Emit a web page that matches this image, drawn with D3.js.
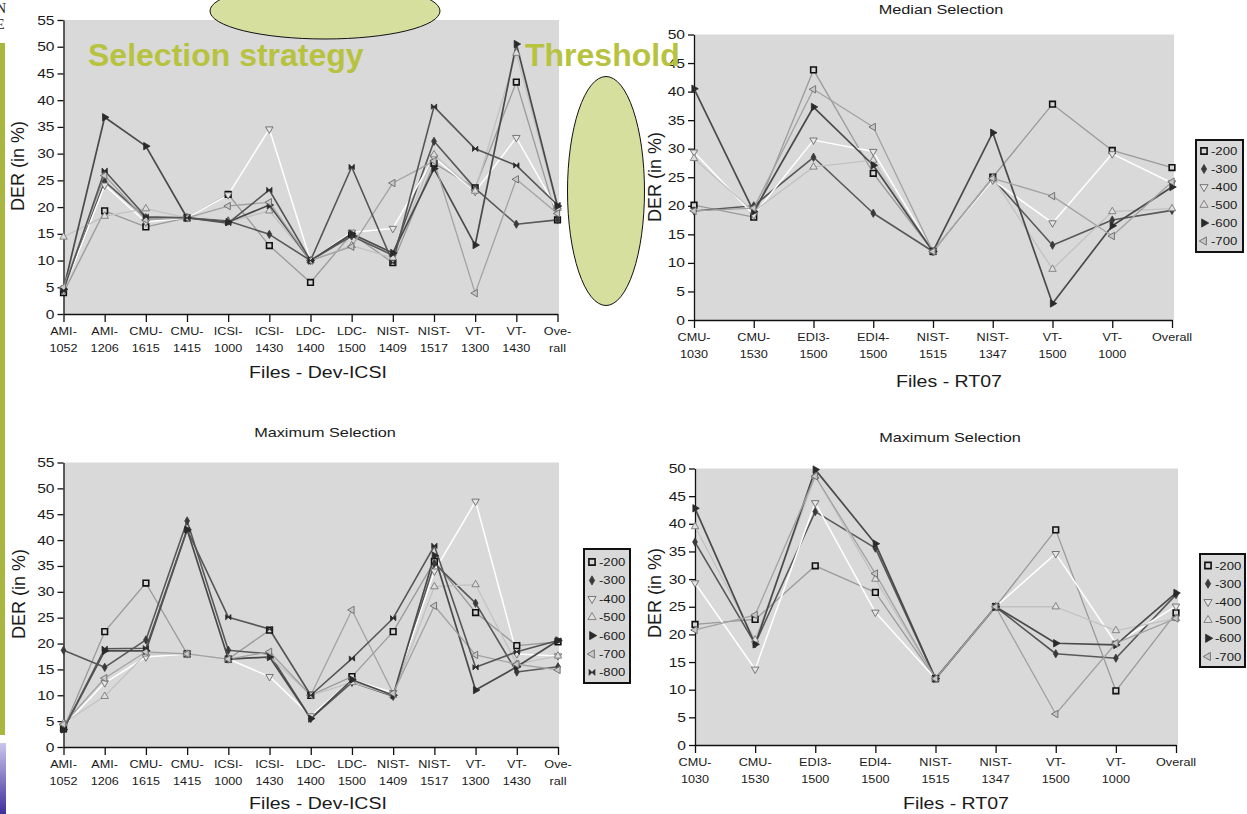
<!DOCTYPE html>
<html><head><meta charset="utf-8">
<script src="https://cdn.jsdelivr.net/npm/d3@7"></script>
<style>
html,body{margin:0;padding:0;background:#fff;}
svg{display:block;font-family:"Liberation Sans",Arial,sans-serif;}
</style></head><body>
<svg id="c" width="1247" height="814"></svg>
<script>
// ---------- DATA ----------
const devFiles = ["AMI-1052","AMI-1206","CMU-1615","CMU-1415","ICSI-1000","ICSI-1430","LDC-1400","LDC-1500","NIST-1409","NIST-1517","VT-1300","VT-1430","Ove-rall"];
const rtFiles = ["CMU-1030","CMU-1530","EDI3-1500","EDI4-1500","NIST-1515","NIST-1347","VT-1500","VT-1000","Overall"];
const thresholds = ["-200","-300","-400","-500","-600","-700","-800"];
const devTicks = [0,5,10,15,20,25,30,35,40,45,50,55];
const rtTicks = [0,5,10,15,20,25,30,35,40,45,50];

// Top-left: Dev-ICSI (median)
const medDev200 = [4, 19.3, 16.3, 18, 22.4, 12.8, 5.9, 15, 9.6, 28.2, 23.6, 43.4, 17.6];
const medDev300 = [4.5, 24.8, 18, 18, 17.4, 14.9, 10, 14.6, 11, 32.3, 23.5, 16.8, 17.6];
const medDev400 = [4.4, 24.1, 17.2, 18, 22.3, 34.6, 10, 15.3, 16, 29.3, 22.9, 33, 19.4];
const medDev500 = [14.4, 18.3, 19.7, 18, 17.2, 19.3, 10, 12.8, 10.5, 29.8, 23, 48.8, 19.8];
const medDev600 = [4.6, 36.8, 31.4, 18, 17.2, 20.4, 10, 15, 11.4, 27.2, 12.9, 50.5, 20.2];
const medDev700 = [5, 25.9, 17.6, 18, 20.2, 20.9, 10, 12.6, 24.5, 28.6, 3.9, 25.2, 18.8];
const medDev800 = [4.4, 26.8, 18.2, 18, 17, 23.2, 10, 27.5, 9.6, 38.8, 30.9, 27.8, 20.4];

// Top-right: RT07 median selection
const medRt200 = [20.1, 18, 43.8, 25.7, 12, 25, 37.8, 29.7, 26.7];
const medRt300 = [19.1, 20, 28.5, 18.7, 12, 24.8, 13.1, 17.5, 19.2];
const medRt400 = [29.4, 18.4, 31.5, 29.5, 12, 24.5, 17, 29.1, 24];
const medRt500 = [28.3, 19, 26.8, 28, 12, 24.9, 8.9, 19, 19.5];
const medRt600 = [40.5, 19, 37.3, 27.1, 12, 32.8, 2.9, 16.5, 23.3];
const medRt700 = [19.1, 19.6, 40.4, 33.8, 12, 24.8, 21.7, 14.7, 24.2];

// Bottom-left: Dev-ICSI maximum selection
const maxDev200 = [3.5, 22.3, 31.7, 18, 17, 22.6, 10, 13.6, 22.3, 35.9, 26, 19.6, 20.3];
const maxDev300 = [18.7, 15.4, 20.7, 43.7, 18.7, 18, 5.5, 12.5, 9.8, 35.5, 27.8, 14.5, 15.5];
const maxDev400 = [4, 12.4, 17.4, 18, 17, 13.6, 6, 13, 10.5, 34, 47.5, 18, 17.6];
const maxDev500 = [4.6, 9.8, 18, 18, 17, 17.5, 10, 12.5, 10, 31, 31.4, 16, 17.6];
const maxDev600 = [3.4, 18.6, 18.6, 42, 17, 17.4, 5.5, 13, 10, 37, 11, 15.5, 20.6];
const maxDev700 = [4.4, 13.3, 18.4, 18, 17, 18.4, 10, 26.5, 10.4, 27.3, 17.8, 16, 14.9];
const maxDev800 = [3.4, 19, 19.1, 42, 25.1, 22.8, 10, 17.1, 24.9, 38.9, 15.4, 18.4, 20.6];

// Bottom-right: RT07 maximum selection
const maxRt200 = [21.8, 22.7, 32.4, 27.6, 12, 25, 38.9, 9.8, 23.9];
const maxRt300 = [36.7, 18.3, 42.2, 35.6, 12, 25, 16.5, 15.7, 27.2];
const maxRt400 = [29.3, 13.7, 43.8, 24, 12, 25, 34.6, 18.4, 25.1];
const maxRt500 = [39.5, 19, 48.6, 30, 12, 25, 25, 20.7, 22.9];
const maxRt600 = [42.8, 18.2, 49.8, 36.4, 12, 25, 18.4, 18.1, 27.5];
const maxRt700 = [20.8, 23.5, 48.6, 31, 12, 25, 5.6, 18.4, 22.9];

// ---------- STYLES ----------
const bowtie = {draw(ctx, size){const r=Math.sqrt(size)/2; ctx.moveTo(-r,-r); ctx.lineTo(-r,r); ctx.lineTo(r,-r); ctx.lineTo(r,r); ctx.closePath();}};
const styles = {
  "-200": {line:"#9a9a9a", w:1.3, type:d3.symbolSquare, size:32, rot:0, fill:"#d6d6d6", stroke:"#111", sw:1.6},
  "-300": {line:"#585858", w:1.6, type:d3.symbolDiamond, size:20, rot:0, fill:"#3a3a3a", stroke:"#3a3a3a", sw:0.8},
  "-400": {line:"#ffffff", w:1.5, type:d3.symbolTriangle, size:24, rot:180, fill:"#e6e6e6", stroke:"#6a6a6a", sw:0.9},
  "-500": {line:"#c2c2c2", w:1.3, type:d3.symbolTriangle, size:24, rot:0, fill:"#dedede", stroke:"#7a7a7a", sw:0.9},
  "-600": {line:"#4a4a4a", w:1.7, type:d3.symbolTriangle, size:24, rot:90, fill:"#2a2a2a", stroke:"#2a2a2a", sw:0.8},
  "-700": {line:"#a2a2a2", w:1.3, type:d3.symbolTriangle, size:24, rot:-90, fill:"#c8c8c8", stroke:"#6a6a6a", sw:0.9},
  "-800": {line:"#555555", w:1.6, type:bowtie, size:28, rot:0, fill:"#2a2a2a", stroke:"#2a2a2a", sw:0.8}
};

const svg = d3.select("#c");

function txt(g, x, y, s, size, anchor, sx, extra){
  const t = g.append("text")
    .attr("transform", `translate(${x},${y}) scale(${sx},1)`)
    .attr("text-anchor", anchor).attr("font-size", size).attr("fill", extra && extra.fill || "#1a1a1a")
    .text(s);
  if (extra && extra.weight) t.attr("font-weight", extra.weight);
  return t;
}

function drawPanel(cfg){
  const g = svg.append("g");
  const x = d3.scalePoint().domain(cfg.cats).range([cfg.x0, cfg.x1]).padding(0);
  const y = d3.scaleLinear().domain([0, cfg.ymax]).range([cfg.yb, cfg.yt]);
  g.append("rect").attr("x", cfg.x0).attr("y", y(cfg.ymax)).attr("width", cfg.bgRight - cfg.x0)
    .attr("height", y(0) - y(cfg.ymax)).attr("fill", "#d9d9d9");
  const ay = g.append("g").attr("transform", `translate(${cfg.x0},0)`)
    .call(d3.axisLeft(y).tickValues(cfg.ticks).tickSize(6).tickSizeOuter(0).tickFormat(""));
  const ax = g.append("g").attr("transform", `translate(0,${y(0)})`)
    .call(d3.axisBottom(x).tickSize(8).tickSizeOuter(0).tickFormat(""));
  [ay, ax].forEach(a => { a.selectAll("path,line").attr("stroke", "#111").attr("stroke-width", 1.3); });
  cfg.ticks.forEach(t => txt(g, cfg.x0 - 9, y(t) + 4.5, String(t), 12.5, "end", 1.25));
  cfg.cats.forEach(c => {
    const parts = c.split(/(?<=-)/);
    parts.forEach((p, i) => txt(g, x(c), y(0) + 21 + i * 17, p, 11, "middle", 1.15));
  });
  txt(g, cfg.xtX, cfg.xtY, cfg.xTitle, 17, "middle", 1.15);
  g.append("text").attr("transform", `translate(${cfg.ytX},${cfg.ytY}) rotate(-90)`)
    .attr("text-anchor", "middle").attr("font-size", 18).attr("fill", "#1a1a1a").text("DER (in %)");
  if (cfg.title) txt(g, cfg.titleX, cfg.titleY, cfg.title, 13, "middle", 1.25);
  const line = d3.line().x((d, i) => x(cfg.cats[i])).y(d => y(d));
  cfg.series.forEach((s, k) => {
    const st = styles[thresholds[k]];
    g.append("path").datum(s).attr("d", line).attr("fill", "none")
      .attr("stroke", st.line).attr("stroke-width", st.w).attr("stroke-linejoin", "round");
  });
  cfg.series.forEach((s, k) => {
    const st = styles[thresholds[k]];
    const sym = d3.symbol().type(st.type).size(st.size)();
    g.selectAll(null).data(s).join("path").attr("d", sym)
      .attr("transform", (d, i) => `translate(${x(cfg.cats[i])},${y(d)}) rotate(${st.rot})`)
      .attr("fill", st.fill).attr("stroke", st.stroke).attr("stroke-width", st.sw);
  });
  if (cfg.legend) {
    const L = cfg.legend;
    const n = cfg.series.length;
    g.append("rect").attr("x", L.x).attr("y", L.y).attr("width", L.w).attr("height", L.h)
      .attr("fill", "#d9d9d9").attr("stroke", "#111").attr("stroke-width", 2);
    for (let k = 0; k < n; k++) {
      const st = styles[thresholds[k]];
      const cy = L.y0 + k * L.step;
      g.append("path").attr("d", d3.symbol().type(st.type).size(st.size * 1.2)())
        .attr("transform", `translate(${L.x + 8},${cy}) rotate(${st.rot})`)
        .attr("fill", st.fill).attr("stroke", st.stroke).attr("stroke-width", st.sw);
      txt(g, L.x + 15, cy + 4, thresholds[k], 10.5, "start", 1.25);
    }
  }
}

// ---------- SLIDE DECORATION (left) ----------
svg.append("rect").attr("x", 0).attr("y", 43).attr("width", 5).attr("height", 692).attr("fill", "#a9b741");
const grad = svg.append("defs").append("linearGradient").attr("id", "pg").attr("x1", 0).attr("y1", 0).attr("x2", 0).attr("y2", 1);
grad.append("stop").attr("offset", 0).attr("stop-color", "#c9c6ee");
grad.append("stop").attr("offset", 1).attr("stop-color", "#3d2f9c");
svg.append("rect").attr("x", 0).attr("y", 743).attr("width", 6).attr("height", 71).attr("fill", "url(#pg)");
svg.append("text").attr("x", -4).attr("y", 13).attr("font-family", "Liberation Serif").attr("font-size", 14).attr("fill", "#222").text("N");
svg.append("text").attr("x", -4).attr("y", 29).attr("font-family", "Liberation Serif").attr("font-size", 14).attr("fill", "#222").text("E");

// ---------- PANELS ----------
drawPanel({cats: devFiles, x0: 63.5, x1: 557.5, bgRight: 559, yt: 20, yb: 314, ymax: 55, ticks: devTicks,
  series: [medDev200, medDev300, medDev400, medDev500, medDev600, medDev700, medDev800],
  xTitle: "Files - Dev-ICSI", xtX: 318, xtY: 378, ytX: 24, ytY: 166});
drawPanel({cats: rtFiles, x0: 694, x1: 1172, bgRight: 1174, yt: 34.5, yb: 320, ymax: 50, ticks: rtTicks,
  series: [medRt200, medRt300, medRt400, medRt500, medRt600, medRt700],
  title: "Median Selection", titleX: 941, titleY: 14,
  xTitle: "Files - RT07", xtX: 949, xtY: 387, ytX: 661, ytY: 177,
  legend: {x: 1196, y: 140, w: 47, h: 112, y0: 151, step: 18}});
drawPanel({cats: devFiles, x0: 63.5, x1: 558, bgRight: 559, yt: 462.5, yb: 747, ymax: 55, ticks: devTicks,
  series: [maxDev200, maxDev300, maxDev400, maxDev500, maxDev600, maxDev700, maxDev800],
  title: "Maximum Selection", titleX: 325, titleY: 437,
  xTitle: "Files - Dev-ICSI", xtX: 318, xtY: 809, ytX: 25, ytY: 594,
  legend: {x: 584, y: 549, w: 46, h: 134, y0: 562, step: 18.4}});
drawPanel({cats: rtFiles, x0: 695, x1: 1176, bgRight: 1178, yt: 468.5, yb: 745, ymax: 50, ticks: rtTicks,
  series: [maxRt200, maxRt300, maxRt400, maxRt500, maxRt600, maxRt700],
  title: "Maximum Selection", titleX: 950, titleY: 442,
  xTitle: "Files - RT07", xtX: 956, xtY: 809, ytX: 661, ytY: 593,
  legend: {x: 1200, y: 554, w: 45, h: 113, y0: 565.5, step: 18.2}});

// ---------- OVERLAYS ----------
svg.append("ellipse").attr("cx", 325).attr("cy", 11).attr("rx", 115).attr("ry", 28)
  .attr("fill", "#d7df9e").attr("stroke", "#111").attr("stroke-width", 1);
svg.append("ellipse").attr("cx", 606).attr("cy", 191).attr("rx", 38.5).attr("ry", 114.5)
  .attr("fill", "#d7df9e").attr("stroke", "#111").attr("stroke-width", 1);
svg.append("text").attr("x", 88).attr("y", 66).attr("font-size", 32).attr("font-weight", "bold")
  .attr("fill", "#b7c33f").text("Selection strategy");
svg.append("text").attr("x", 525).attr("y", 66).attr("font-size", 32).attr("font-weight", "bold")
  .attr("fill", "#b7c33f").text("Threshold");
</script>
</body></html>
